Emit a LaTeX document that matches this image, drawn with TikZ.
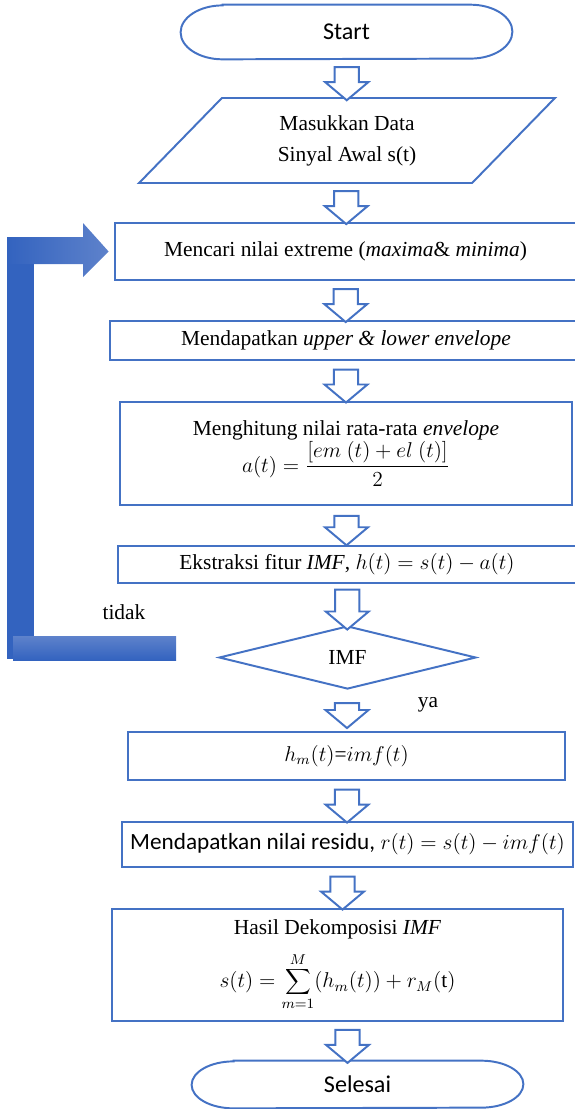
\documentclass[tikz,border=0pt]{standalone}
\usepackage{fontspec}
\setmainfont{Liberation Serif}
\newfontfamily\teksserif{Liberation Serif}
\newfontfamily\calibri{Carlito}
\usetikzlibrary{shapes.geometric,shapes.arrows,calc}
\definecolor{garisbiru}{HTML}{4472C4}
\definecolor{birutua}{HTML}{3363BF}
\definecolor{birumuda}{HTML}{5E82CB}
\begin{document}
\begin{tikzpicture}[x=0.56pt,y=-0.56pt]
\tikzset{
  kotak/.style={draw=garisbiru,line width=1.1pt,rectangle,inner sep=2pt,align=center,font=\teksserif\fontsize{12}{14.5}\selectfont},
  ujung/.style={inner sep=0pt,minimum width=185.4pt,font=\calibri\fontsize{13.5}{16}\selectfont},
  keputusan/.style={draw=garisbiru,line width=1.1pt,diamond,aspect=4,inner sep=0pt,minimum width=143.9pt,minimum height=35.3pt,font=\teksserif\fontsize{12}{14.5}\selectfont},
  panah/.style={single arrow,draw=garisbiru,line width=1.1pt,fill=white,rotate=-90,inner xsep=0pt,inner ysep=6.2pt,single arrow head extend=5.3pt,single arrow tip angle=100,minimum height=18.5pt},
  garis/.style={draw=garisbiru,line width=1.1pt},
  teks/.style={font=\teksserif\fontsize{12}{14.5}\selectfont}
}
\useasboundingbox (0,0) rectangle (574,1109);

% mulai dan input data
\node[ujung,minimum height=30.2pt] (start) at (346.5,32) {Start};
\draw[garis] ([xshift=23.5pt]start.north west) -- ([xshift=-23.5pt]start.north east)
  arc[start angle=90,end angle=-90,x radius=23.5pt,y radius=15.1pt]
  -- ([xshift=23.5pt]start.south west)
  arc[start angle=270,end angle=90,x radius=23.5pt,y radius=15.1pt] -- cycle;
\node[kotak,draw=none,minimum width=185.4pt,minimum height=46.5pt] (input) at (347,140.5) {Masukkan Data\\[3pt]Sinyal Awal s(t)};
\draw[garis] ([xshift=23.2pt]input.north west) -- ([xshift=23.2pt]input.north east)
  -- ([xshift=-23.2pt]input.south east) -- ([xshift=-23.2pt]input.south west) -- cycle;

% proses sifting
\node[kotak,minimum width=258.2pt,minimum height=31.9pt] (ekstrem) at (345.5,251.5) {Mencari nilai extreme (\textit{maxima}\& \textit{minima})};
\node[kotak,minimum width=264.3pt,minimum height=21.8pt] (envelope) at (346,340.5) {Mendapatkan \textit{upper \& lower envelope}};
\node[kotak,minimum width=253.1pt,minimum height=57.7pt] (ratarata) at (346,453.5) {Menghitung nilai rata-rata \textit{envelope}\\ $\displaystyle a(t)=\frac{[em\ (t)+el\ (t)]}{2}$};
\node[kotak,minimum width=256.5pt,minimum height=20.7pt] (ekstraksi) at (347,564.5) {Ekstraksi fitur \textit{IMF}, $h(t)=s(t)-a(t)$};
\node[keputusan] (imf) at (347.5,657.5) {IMF};

% hasil dan selesai
\node[kotak,minimum width=244.7pt,minimum height=26.9pt] (hm) at (346.5,756) {$h_m(t)$=$imf(t)$};
\node[kotak,minimum width=252.6pt,minimum height=25.2pt] (residu) at (347.5,844.5) {{\calibri\fontsize{13}{15}\selectfont Mendapatkan nilai residu,} $r(t)=s(t)-imf(t)$};
\node[kotak,minimum width=252.6pt,minimum height=62.7pt] (hasil) at (337.5,965) {Hasil Dekomposisi \textit{IMF}\\[7pt] $\displaystyle s(t)=\sum_{m=1}^{M}(h_m(t))+r_M(\mathrm{t})$};
\node[ujung,minimum height=26.3pt] (selesai) at (357.5,1084.5) {Selesai};
\draw[garis] ([xshift=23.5pt]selesai.north west) -- ([xshift=-23.5pt]selesai.north east)
  arc[start angle=90,end angle=-90,x radius=23.5pt,y radius=13.15pt]
  -- ([xshift=23.5pt]selesai.south west)
  arc[start angle=270,end angle=90,x radius=23.5pt,y radius=13.15pt] -- cycle;

% label cabang
\node[teks] (tidak) at (124,612) {tidak};
\node[teks] (ya) at (428,705) {ya};

% panah blok antar langkah
\node[panah] (p1) at ($(start.south)!.5!(input.north)$) {};
\node[panah] (p2) at ($(input.south)!.5!(ekstrem.north)$) {};
\node[panah] (p3) at ($(ekstrem.south)!.5!(envelope.north)$) {};
\node[panah] (p4) at ($(envelope.south)!.5!(ratarata.north)$) {};
\node[panah,minimum height=16.5pt] (p5) at ($(ratarata.south)!.5!(ekstraksi.north)$) {};
\node[panah,minimum height=22.4pt] (p6) at ($(ekstraksi.south)!.5!(imf.north)$) {};
\node[panah,minimum height=14pt] (p7) at ($(imf.south)!.5!(hm.north)$) {};
\node[panah] (p8) at ($(hm.south)!.5!(residu.north)$) {};
\node[panah] (p9) at ($(residu.south)!.5!(hasil.north)$) {};
\node[panah] (p10) at ($(hasil.south)!.5!(selesai.north)$) {};

% panah balik ke pencarian ekstrem
\coordinate (ujungbalik) at ([xshift=-3pt]ekstrem.west);
\fill[birutua] (7,237) rectangle (34,659);
\shade[left color=birutua,right color=birumuda] (7,237) -- (83,237) -- (83,223)
  -- (ujungbalik) -- (83,277) -- (83,264) -- (34,264) -- (7,264) -- cycle;
\shade[top color=birumuda,bottom color=birutua] (13,636) rectangle (176,660);
\end{tikzpicture}
\end{document}
